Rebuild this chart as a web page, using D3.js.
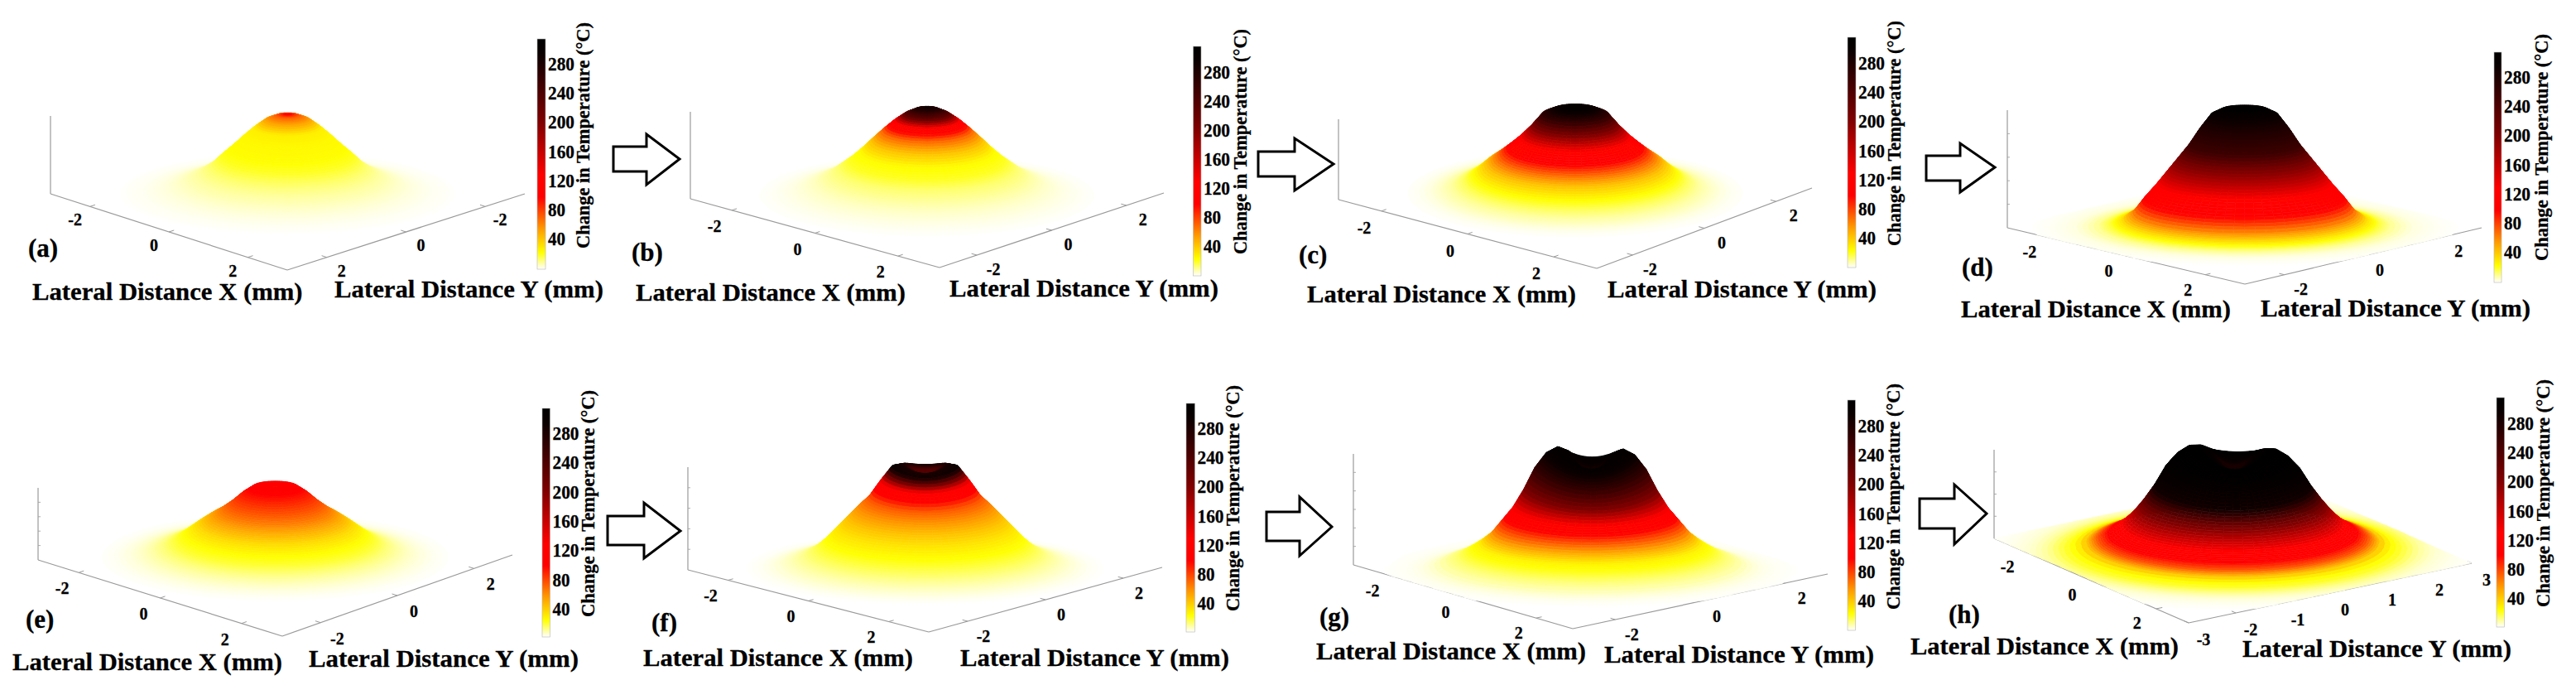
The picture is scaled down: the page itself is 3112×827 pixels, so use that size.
<!DOCTYPE html>
<html><head><meta charset="utf-8">
<script src="https://cdn.jsdelivr.net/npm/d3@7"></script>
<style>html,body{margin:0;padding:0;background:#fff}svg{display:block}text{font-family:"Liberation Serif","Times New Roman",serif;font-weight:bold;fill:#000;stroke:#000;stroke-width:.3px}</style>
</head><body><div id="chart"></div>
<script>
// ---- data ----
const radii = [0,.2,.4,.6,.8,1,1.2,1.4,1.6,1.8,2,2.2,2.4,2.6,2.8,3,3.3,3.6,4,4.3];
const heightA = [1,.985,.93,.83,.71,.58,.46,.33,.24,.17,.12,.08,.05,.03,.015,.005,0,0,0,0];
const tempA   = [105,72,52,28,25,24,20,13,9,6.5,4.5,3,2,1.2,.7,.3,0,0,0,0];
const heightB = [1,.98,.925,.84,.735,.62,.5,.39,.3,.21,.15,.1,.06,.035,.015,.005,0,0,0,0];
const tempB   = [290,275,230,120,70,42,24,20,13,9,6,4,2.6,1.6,.8,.3,0,0,0,0];
const heightC = [1,1,.985,.93,.78,.65,.54,.44,.35,.24,.15,.09,.05,.03,.015,.005,0,0,0,0];
const tempC   = [300,300,290,265,190,125,100,68,42,25,15,9,5.5,3,1.2,.4,0,0,0,0];
const heightD = [1,1,.995,.95,.83,.69,.575,.46,.345,.24,.12,.06,.03,.015,.007,.002,0,0,0,0];
const tempD   = [310,310,305,295,275,255,205,165,120,100,60,32,18,10,6,3,1.5,.6,0,0];
const heightE = [.955,.985,.97,.87,.74,.63,.54,.44,.33,.22,.15,.1,.06,.035,.015,.005,0,0,0,0];
const tempE   = [92,112,102,90,76,62,48,34,24,18,12,8,5,3,1.5,.6,0,0,0,0];
const heightF = [.93,.95,1,.975,.84,.69,.59,.48,.37,.26,.17,.11,.07,.04,.02,.005,0,0,0,0];
const tempF   = [230,240,285,295,125,75,58,42,30,22,15,10,6.5,4,2,.8,0,0,0,0];
const heightG = [.84,.87,.97,1,.95,.83,.65,.5,.39,.28,.21,.15,.1,.065,.03,.01,0,0,0,0];
const tempG   = [285,290,300,305,295,262,200,125,85,50,27,20,13,9,5,2.5,1,.4,0,0];
const heightH = [.82,.86,.95,1,.99,.92,.8,.62,.47,.34,.24,.17,.12,.08,.05,.02,.005,0,0,0];
const tempH   = [280,285,300,310,310,310,305,290,215,165,125,100,75,42,24,18,9,4,1.5,.5];
const colorTicks = [40,80,120,160,200,240,280];
const colorStops = [0,23,55,98,128,200,295,314];
const colorHues  = ["#ffffff","#ffff00","#ff9a00","#ff0000","#ff0000","#800000","#0a0000","#000000"];
const xTickVals = [-2,0,2];
const yTickVals = [-2,0,2];
const yTickValsH = [-3,-2,-1,0,1,2,3];
const lobeRadii = [0,.4,1.1,1.8];
const lobeWeight = [0,1,1,0];
const xLabel = "Lateral Distance X (mm)", yLabel = "Lateral Distance Y (mm)", cbLabel = "Change in Temperature (°C)";

// ---- layout ----
const W=3112,H=827;
const panels=[
{id:"(a)",h:heightA,t:tempA,L:[61,234],F:[347,326],Rt:[634,234],zH:96,axTop:140,squash:.75,lobe:0,tilt:0,xo:[-18,16],yo:[18,16],yT:yTickVals,flipY:true,zt:0,
 bar:[649,659,47,325,77,288,662],title:[705,300,27],xl:[39,365.6,362],yl:[404,729,359],tag:[34,310]},
{id:"(b)",h:heightB,t:tempB,L:[834,240],F:[1135,323],Rt:[1406,233],zH:107,axTop:135,squash:.8,lobe:0,tilt:0,xo:[-21,19],yo:[20,17],yT:yTickVals,zt:0,
 bar:[1441.5,1451,56,333,87,297,1454],title:[1499,307,35],xl:[768,1094,363],yl:[1147,1472,358],tag:[763,315]},
{id:"(c)",h:heightC,t:tempC,L:[1617,241],F:[1929,324],Rt:[2189,227],zH:103,axTop:144,squash:.82,lobe:0,tilt:0,xo:[-21,20],yo:[21,17],yT:yTickVals,zt:0,
 bar:[2232,2242,45,323,76,287,2245],title:[2289,297,25],xl:[1579,1904,365],yl:[1942,2267,359],tag:[1569,318]},
{id:"(d)",h:heightD,t:tempD,L:[2425,275],F:[2712,343],Rt:[2998,275],zH:144,axTop:133,squash:.75,lobe:0,tilt:0,xo:[-21,18],yo:[20,17],yT:yTickVals,zt:4,
 bar:[3013,3022,63,341,93,304,3025],title:[3071,315,41],xl:[2369,2695,383],yl:[2731,3057,382],tag:[2370,333]},
{id:"(e)",h:heightE,t:tempE,L:[46,676],F:[341,768],Rt:[619,670],zH:88,axTop:589,squash:.75,lobe:0,tilt:0,xo:[-20,19],yo:[20,19],yT:yTickVals,zt:4,
 bar:[655,664.5,493,769,523,735,667.5],title:[711,745,471],xl:[15,341,809],yl:[373,699,805],tag:[31,758]},
{id:"(f)",h:heightF,t:tempF,L:[831,688],F:[1122,763],Rt:[1404,685],zH:126,axTop:564,squash:.75,lobe:.045,tilt:0,xo:[-21,18],yo:[19,18],yT:yTickVals,zt:4,
 bar:[1433,1443.5,487,763,517,728,1446.5],title:[1490,738,465],xl:[777,1103,804],yl:[1160,1485,804],tag:[787,762]},
{id:"(g)",h:heightG,t:tempG,L:[1635,682],F:[1900,759],Rt:[2208,693],zH:146,axTop:548,squash:.72,lobe:.12,tilt:.01,xo:[-21,18],yo:[20,18],yT:yTickVals,zt:5,
 bar:[2232,2241.4,483,761,514,725,2244.5],title:[2288,736,463],xl:[1590,1916,796],yl:[1938,2264,800],tag:[1594,755]},
{id:"(h)",h:heightH,t:tempH,L:[2409,650],F:[2644,752],Rt:[2986,680],zH:124,axTop:543,squash:.78,lobe:.13,tilt:.02,xo:[-23,17],yo:[18,20],yT:yTickValsH,zt:3,
 bar:[3016,3025.6,480,757,511,722,3029],title:[3073,733,458],xl:[2308,2632,790],yl:[2709,3034,793],tag:[2354,752]}
];
const arrows=[
[741,177,781,162,821,192,223,207],
[1520,183,1564,167,1611,198,230,213],
[2327,188,2368,173,2410,202,232,218],
[734,623,778,607,822,641,674,658],
[1530,618,1570,600,1609,636,671,653],
[2319,602,2361,585,2400,620,657,638]
];

const svg=d3.select("#chart").append("svg").attr("width",W).attr("height",H).attr("viewBox",`0 0 ${W} ${H}`);
svg.append("rect").attr("width",W).attr("height",H).attr("fill","#fff");
const color=d3.scaleLinear().domain(colorStops).range(colorHues).clamp(true);
const weight=d3.scaleLinear().domain(lobeRadii).range(lobeWeight).clamp(true);
const ringR=d3.range(0,2.6,.04).concat(d3.range(2.6,4.45,.1));
const sectors=d3.range(0,65).map(i=>i/64*2*Math.PI);
const line=d3.line();

panels.forEach(p=>{
  const g=svg.append("g");
  const sx=d3.scaleLinear().domain([-3,3]).range([0,1]), sy=d3.scaleLinear().domain([-3,3]).range([0,1]);
  const ux=[(p.F[0]-p.L[0]),(p.F[1]-p.L[1])], uy=[(p.Rt[0]-p.F[0]),(p.Rt[1]-p.F[1])];
  const floor=(x,y)=>[p.L[0]+sx(x)*ux[0]+sy(y)*uy[0], p.L[1]+sx(x)*ux[1]+sy(y)*uy[1]];
  const c=floor(0,0);
  const hs=(ux[0]+uy[0])/6/Math.SQRT2, vs=(ux[1]-uy[1])/6/Math.SQRT2;
  const det=(ux[0]*uy[1]-ux[1]*uy[0])/36;
  const hAt=d3.scaleLinear().domain(radii).range(p.h).clamp(true);
  const tAt=d3.scaleLinear().domain(radii).range(p.t).clamp(true);
  const z=d3.scaleLinear().domain([0,1]).range([0,p.zH]);
  const vertex=(r,a)=>{
    // mesh follows the rings of the mound on the floor; points past the square floor are pulled back to its edge
    const dx=hs*r*Math.cos(a),dy=vs*p.squash*r*Math.sin(a);
    const X0=(dx*uy[1]/6-dy*uy[0]/6)/det,Y0=(dy*ux[0]/6-dx*ux[1]/6)/det;
    const X=Math.max(-3,Math.min(3,X0)),Y=Math.max(-3,Math.min(3,Y0));
    const f=floor(X,Y),u=(f[0]-c[0])/hs,w=(f[1]-c[1])/vs/p.squash;
    const re=Math.hypot(u,w),phi=Math.atan2(w,u),wt=weight(re);
    const A=(1-p.lobe*wt*Math.sin(phi)**2)*(1-p.tilt*wt*Math.cos(phi));
    return {x:f[0],y:f[1]-z(hAt(re)*A),fy:f[1],T:tAt(re),X,Y};
  };
  const quads=[];
  for(let i=0;i<ringR.length-1;i++)for(let j=0;j<64;j++){
    const v=[vertex(ringR[i],sectors[j]),vertex(ringR[i+1],sectors[j]),vertex(ringR[i+1],sectors[j+1]),vertex(ringR[i],sectors[j+1])];
    const T=d3.mean(v,d=>d.T);
    if(T<.35)continue;
    if(v.every(d=>d.X===3)||v.every(d=>d.X===-3)||v.every(d=>d.Y===3)||v.every(d=>d.Y===-3))continue;
    quads.push({pts:v.map(d=>[d.x,d.y]),T,key:d3.mean(v,d=>d.fy)});
  }
  quads.sort((a,b)=>a.key-b.key);
  // box axes
  const ax=g.append("g").attr("stroke","#9a9a9a").attr("stroke-width",1.2).attr("fill","none");
  const seg=(a,b,w)=>ax.append("line").attr("x1",a[0]).attr("y1",a[1]).attr("x2",b[0]).attr("y2",b[1]).attr("stroke-width",w||1.2);
  seg(p.L,p.F);seg(p.F,p.Rt);seg(p.L,[p.L[0],p.axTop]);
  d3.range(1,p.zt+1).forEach(i=>seg([p.L[0],p.L[1]-(p.L[1]-p.axTop)*i/(p.zt+1)],[p.L[0]+3,p.L[1]-(p.L[1]-p.axTop)*i/(p.zt+1)],.8));
  // surface
  g.append("g").selectAll("path").data(quads).join("path")
    .attr("d",d=>line(d.pts)+"Z")
    .attr("fill",d=>color(d.T)).attr("stroke",d=>color(d.T)).attr("stroke-width",.6);
  // ticks
  xTickVals.forEach(t=>{
    const a=floor(t,-3),b=floor(t,-2.87);
    seg(a,b,1);
    g.append("text").attr("x",a[0]+p.xo[0]).attr("y",a[1]+p.xo[1]+7).attr("text-anchor","middle").attr("font-size",20).text(t);
  });
  p.yT.forEach(t=>{
    const a=floor(3,t),b=floor(2.87,t);
    seg(a,b,1);
    g.append("text").attr("x",a[0]+p.yo[0]).attr("y",a[1]+p.yo[1]+7).attr("text-anchor","middle").attr("font-size",20).text(p.flipY?-t:t);
  });
  // labels
  const lab=(s,a,b,y)=>g.append("text").attr("x",a).attr("y",y).attr("font-size",30).attr("textLength",b-a).attr("lengthAdjust","spacingAndGlyphs").text(s);
  lab(xLabel,p.xl[0],p.xl[1],p.xl[2]);
  lab(yLabel,p.yl[0],p.yl[1],p.yl[2]);
  g.append("text").attr("x",p.tag[0]).attr("y",p.tag[1]).attr("font-size",31).text(p.id);
  // colour bar
  const [b0,b1,bTop,bBot,y280,y40,lx]=p.bar;
  const cy=d3.scaleLinear().domain([40,280]).range([y40,y280]);
  const gid="cb"+p.id[1];
  const grad=svg.append("defs").append("linearGradient").attr("id",gid).attr("x1",0).attr("x2",0).attr("y1",1).attr("y2",0);
  grad.selectAll("stop").data(colorStops).join("stop").attr("offset",d=>d/314).attr("stop-color",d=>color(d));
  g.append("rect").attr("x",b0).attr("y",bTop).attr("width",b1-b0).attr("height",bBot-bTop).attr("fill",`url(#${gid})`).attr("stroke","#b5b5b5").attr("stroke-width",.6);
  g.append("g").selectAll("text").data(colorTicks).join("text").attr("x",lx).attr("y",d=>cy(d)+8).attr("font-size",23).attr("textLength",d=>d<100?21:32).attr("lengthAdjust","spacingAndGlyphs").text(d=>d);
  const tx=p.title[0]+7,ty0=p.title[1],ty1=p.title[2];
  g.append("text").attr("transform",`translate(${tx},${ty0}) rotate(-90)`).attr("font-size",23).attr("textLength",ty0-ty1).attr("lengthAdjust","spacingAndGlyphs").text(cbLabel);
});

svg.append("g").selectAll("path").data(arrows).join("path")
  .attr("d",a=>{const [x0,yt,xh,yh,xt,ym,yb,ybb]=a;return line([[x0,yt],[xh,yt],[xh,yh],[xt,ym],[xh,yb],[xh,ybb],[x0,ybb]])+"Z";})
  .attr("fill","#fff").attr("stroke","#000").attr("stroke-width",3);
</script></body></html>
